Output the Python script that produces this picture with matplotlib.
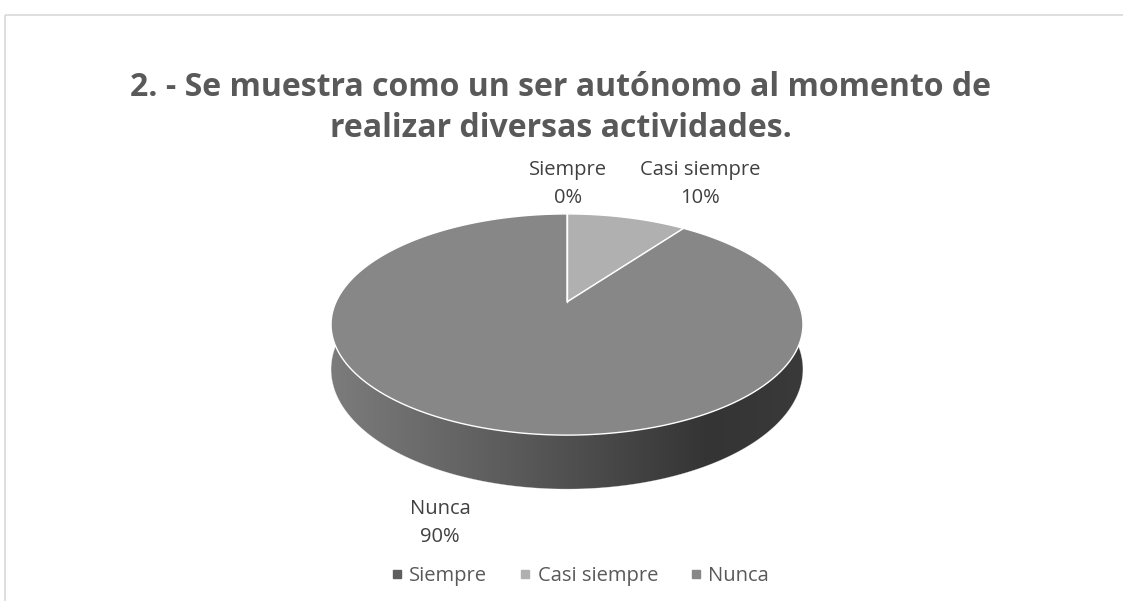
import numpy as np
import matplotlib.pyplot as plt
import matplotlib.patches as patches
from matplotlib.lines import Line2D
from matplotlib.colors import LinearSegmentedColormap

# data
categorias = ['Siempre', 'Casi siempre', 'Nunca']
valores = [0, 10, 90]
colores = ['#5e5e5e', '#b0b0b0', '#878787']
titulo = '2. - Se muestra como un ser autónomo al momento de\nrealizar diversas actividades.'

plt.rcParams['font.family'] = ['Open Sans', 'DejaVu Sans']

W, H = 1123, 601
fig = plt.figure(figsize=(W / 100, H / 100), dpi=100)
ax = fig.add_axes([0, 0, 1, 1])
ax.set_xlim(0, W)
ax.set_ylim(H, 0)
ax.axis('off')

# chart frame
ax.add_patch(patches.Rectangle((4.5, 14.5), W + 10, H, fill=False, edgecolor='#d9d9d9', lw=1.2))

# 3d pie geometry (simple perspective)
cx, cy = 567, 302
R, Ry = 231, 106
a = 0.2036
thick = 43


def proyectar(theta, depth=0.0):
    # theta in degrees, clockwise from top
    t = np.radians(theta)
    u, v = np.sin(t), np.cos(t)
    k = 1 + a * v
    return cx + R * u / k, cy - (Ry * v - depth) / k


# side of the pie (front half)
th = np.linspace(90, 270, 200)
top_x, top_y = proyectar(th)
bot_x, bot_y = proyectar(th[::-1], thick)
lado = np.column_stack([np.concatenate([top_x, bot_x]), np.concatenate([top_y, bot_y])])
poly_lado = patches.Polygon(lado, closed=True, facecolor='none', edgecolor='none')
ax.add_patch(poly_lado)
cmap = LinearSegmentedColormap.from_list('lado', [(0, '#7c7c7c'), (0.45, '#555555'),
                                                 (0.8, '#343434'), (1, '#3a3a3a')])
grad = np.linspace(0, 1, 256).reshape(1, -1)
img = ax.imshow(grad, cmap=cmap, extent=(cx - R * 1.03, cx + R * 1.03, cy + 200, cy - 50),
                aspect='auto', zorder=1)
img.set_clip_path(poly_lado)
ax.plot(bot_x, bot_y, color='#ffffff', lw=0.4, alpha=0.5, zorder=2)

# top wedges
total = sum(valores)
inicio = 0.0
for cat, val, col in zip(categorias, valores, colores):
    fin = inicio + 360.0 * val / total
    if val > 0:
        t = np.linspace(inicio, fin, max(int(val * 4), 20))
        xs, ys = proyectar(t)
        pts = np.column_stack([np.concatenate([[cx], xs]), np.concatenate([[cy], ys])])
        ax.add_patch(patches.Polygon(pts, closed=True, facecolor=col, edgecolor='white',
                                     lw=1.0, zorder=3))
    else:
        xs, ys = proyectar(np.array([inicio]))
        ax.plot([cx, xs[0]], [cy, ys[0]], color='white', lw=1.0, zorder=4)
    inicio = fin

# data labels
pos_etiquetas = {'Siempre': (568, 184), 'Casi siempre': (700, 184), 'Nunca': (440, 523)}
for cat, val in zip(categorias, valores):
    x, y = pos_etiquetas[cat]
    ax.text(x, y, '%s\n%d%%' % (cat, round(100 * val / total)), ha='center', va='center',
            fontsize=14.5, color='#404040', linespacing=1.5, zorder=5)

# title
ax.text(561, 108, titulo, ha='center', va='center', fontsize=23, fontweight='bold',
        color='#595959', linespacing=1.33)

# legend
handles = [Line2D([], [], linestyle='None', marker='s', markersize=6, color=c) for c in colores]
fig.legend(handles, categorias, loc='center', bbox_to_anchor=(578 / W, 1 - 576 / H), ncol=3,
           frameon=False, fontsize=14.5, labelcolor='#595959', handletextpad=0.1,
           columnspacing=1.4, handlelength=1.0)

fig.savefig('out.png', dpi=100, facecolor='white')
